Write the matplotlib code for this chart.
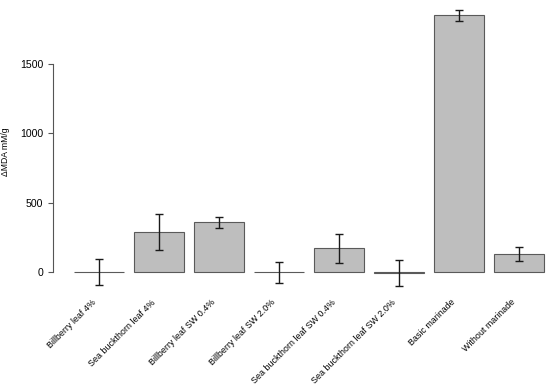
import matplotlib
matplotlib.use("Agg")
import matplotlib.pyplot as plt
from matplotlib.transforms import ScaledTranslation

plt.rcParams['font.family'] = ['Liberation Sans', 'DejaVu Sans']

labels = ["Billberry leaf 4%", "Sea buckthorn leaf 4%", "Billberry leaf SW 0.4%",
          "Billberry leaf SW 2.0%", "Sea buckthorn leaf SW 0.4%",
          "Sea buckthorn leaf SW 2.0%", "Basic marinade", "Without marinade"]
values = [0, 290, 360, -3, 172, -7, 1850, 127]
errors = [95, 131, 40, 78, 105, 93, 40, 50]

fig = plt.figure(figsize=(5.5, 3.87), dpi=100)
ax = fig.add_axes([0.0964, 0.254, 0.9036, 0.746])

xs = list(range(len(labels)))
ax.bar(xs, values, width=0.833, color="#bebebe", edgecolor="#5a5a5a", linewidth=0.8)
ax.errorbar(xs, values, yerr=errors, fmt="none", ecolor="#1a1a1a",
            elinewidth=1.0, capsize=2.6, capthick=1.0)

ax.set_xlim(-0.767, 7.517)
ax.set_ylim(-120, 1960)

for s in ["top", "right", "bottom"]:
    ax.spines[s].set_visible(False)
ax.spines["left"].set_bounds(0, 1500)
ax.spines["left"].set_color("#555555")
ax.spines["left"].set_linewidth(0.8)
ax.set_yticks([0, 500, 1000, 1500])
ax.tick_params(axis="y", length=3.6, width=0.8, color="#555555", labelsize=7.6, pad=3.6)
ax.set_xticks([])

offset = ScaledTranslation(-8 / 100, -9 / 100, fig.dpi_scale_trans)
for x, lab in zip(xs, labels):
    ax.text(x, 0, lab, transform=ax.get_xaxis_transform() + offset,
            rotation=45, rotation_mode="anchor", ha="right", va="top", fontsize=6.4)

ax.set_ylabel("ΔMDA mM/g", fontsize=6.2)
ax.yaxis.set_label_coords(-0.086, 0.473)

fig.savefig("out.png", dpi=100)
